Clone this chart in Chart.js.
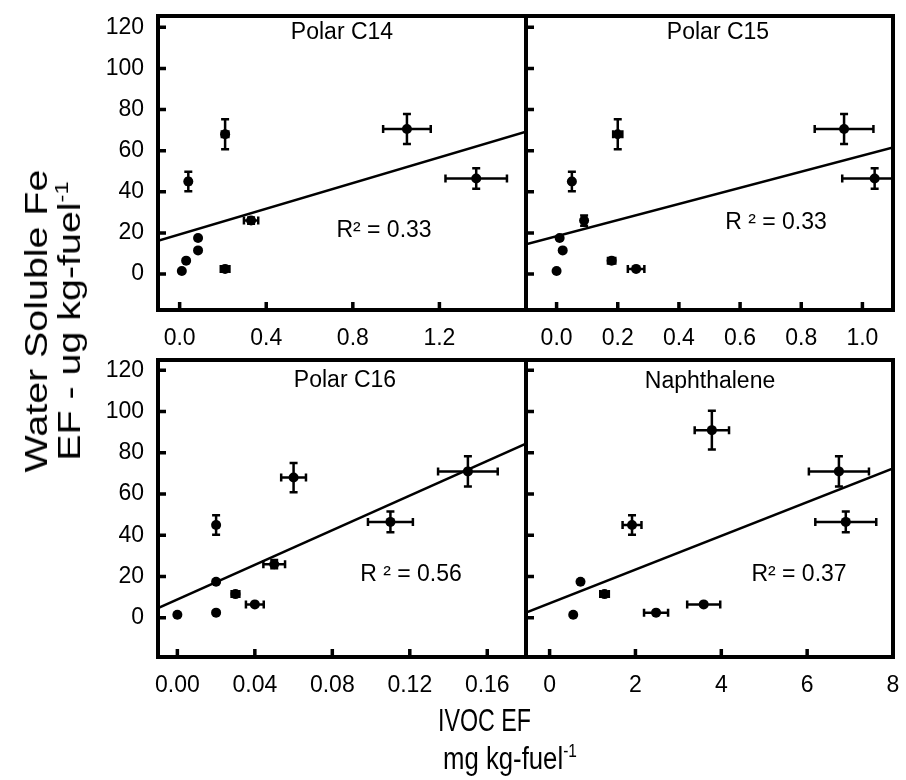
<!DOCTYPE html>
<html lang="en">
<head>
<meta charset="UTF-8">
<title>Water Soluble Fe vs IVOC EF</title>
<script src="https://cdn.jsdelivr.net/npm/chart.js"></script>
<style>
  body { margin: 0; background: #fff; }
  #wrap { position: relative; width: 906px; height: 780px; overflow: hidden;
          font-family: "Liberation Sans", Arial, sans-serif; color: #000; }
  #wrap canvas { position: absolute; left: 0; top: 0; }
  .sup { font-size: 60%; position: relative; top: -0.65em; }
  #ytitle { position: absolute; left: -157px; top: 288px; width: 420px; height: 66px;
            text-align: center; font-size: 31px; line-height: 33px; white-space: nowrap;
            transform: rotate(-90deg) scaleX(1.27); }
  .xtitle { position: absolute; width: 300px; white-space: nowrap;
            font-size: 31px; line-height: 31px; transform-origin: 0 0; }
</style>
</head>
<body>
<div id="wrap">
  <canvas id="c0" width="906" height="780"></canvas>
  <canvas id="c1" width="906" height="780"></canvas>
  <canvas id="c2" width="906" height="780"></canvas>
  <canvas id="c3" width="906" height="780"></canvas>
  <div id="ytitle">Water Soluble Fe<br>EF - ug kg-fuel<span class="sup">-1</span></div>
  <div class="xtitle" style="left:438px; top:705px; transform:scaleX(0.75)">IVOC EF</div>
  <div class="xtitle" style="left:443px; top:743px; transform:scaleX(0.83)">mg kg-fuel<span class="sup">-1</span></div>
</div>

<script>
  // shared y ticks (Fe EF)
  var yTicks = [0, 20, 40, 60, 80, 100, 120];

  // Polar C14
  var c14X = [0.01, 0.03, 0.085, 0.085, 0.04, 0.21, 0.21, 0.33, 1.05, 1.37];
  var c14Y = [1.5, 6.5, 11.5, 17.5, 45, 68, 2.5, 26, 70.5, 46.5];
  var c14XErr = [0, 0, 0, 0, 0.01, 0.015, 0.02, 0.033, 0.11, 0.142];
  var c14YErr = [0, 0, 0, 0, 4.8, 7.3, 0, 1.5, 7.3, 5];
  var c14LineX = [-0.1, 1.6];
  var c14LineY = [16.1, 69.2];
  var c14Ticks = [0, 0.4, 0.8, 1.2];

  // Polar C15
  var c15X = [0.0, 0.02, 0.01, 0.05, 0.09, 0.2, 0.18, 0.26, 0.94, 1.04];
  var c15Y = [1.5, 11.5, 17.5, 45, 26, 68, 6.5, 2.5, 70.5, 46.5];
  var c15XErr = [0, 0, 0, 0.005, 0.005, 0.015, 0.012, 0.027, 0.096, 0.106];
  var c15YErr = [0, 0, 0, 4.8, 2.5, 7.3, 0, 0, 7.3, 5];
  var c15LineX = [-0.1, 1.1];
  var c15LineY = [14.4, 61.6];
  var c15Ticks = [0, 0.2, 0.4, 0.6, 0.8, 1.0];

  // Polar C16
  var c16X = [0.0, 0.02, 0.02, 0.02, 0.03, 0.04, 0.05, 0.06, 0.11, 0.15];
  var c16Y = [1.5, 2.5, 17.5, 45, 11.5, 6.5, 26, 68, 46.5, 71];
  var c16XErr = [0, 0, 0, 0.001, 0.002, 0.0046, 0.0056, 0.0064, 0.0116, 0.0154];
  var c16YErr = [0, 0, 0, 4.7, 0, 0, 2, 7.1, 5, 7.3];
  var c16LineX = [-0.01, 0.18];
  var c16LineY = [4.7, 84.5];
  var c16Ticks = [0, 0.04, 0.08, 0.12, 0.16];

  // Naphthalene
  var napX = [0.55, 0.72, 1.28, 2.48, 1.92, 3.59, 3.78, 6.74, 6.9];
  var napY = [1.5, 17.5, 11.5, 2.5, 45, 6.5, 91, 71, 46.5];
  var napXErr = [0, 0, 0.1, 0.28, 0.22, 0.385, 0.4, 0.7, 0.71];
  var napYErr = [0, 0, 0, 0, 4.7, 0, 9.4, 7.3, 5];
  var napLineX = [-0.55, 8];
  var napLineY = [2.56, 72.4];
  var napTicks = [0, 2, 4, 6, 8];

  var FONT = '"Liberation Sans", Arial, sans-serif';

  var panels = [
    { name: "Polar C14", r2: "R\u00b2 = 0.33", x: c14X, y: c14Y, xErr: c14XErr, yErr: c14YErr,
      lineX: c14LineX, lineY: c14LineY, xTicks: c14Ticks, xMin: -0.1, xMax: 1.6, digits: 1,
      yMin: -17.5, yMax: 125.5, showY: true,
      area: { left: 158, top: 16, right: 526, bottom: 310 }, nameAt: [342, 33], r2At: [384, 231] },
    { name: "Polar C15", r2: "R \u00b2 = 0.33", x: c15X, y: c15Y, xErr: c15XErr, yErr: c15YErr,
      lineX: c15LineX, lineY: c15LineY, xTicks: c15Ticks, xMin: -0.1, xMax: 1.1, digits: 1,
      yMin: -17.5, yMax: 125.5, showY: false,
      area: { left: 526, top: 16, right: 893, bottom: 310 }, nameAt: [718, 33], r2At: [776, 223] },
    { name: "Polar C16", r2: "R \u00b2 = 0.56", x: c16X, y: c16Y, xErr: c16XErr, yErr: c16YErr,
      lineX: c16LineX, lineY: c16LineY, xTicks: c16Ticks, xMin: -0.01, xMax: 0.18, digits: 2,
      yMin: -19, yMax: 125, showY: true,
      area: { left: 158, top: 360, right: 526, bottom: 657 }, nameAt: [345, 381], r2At: [411, 575] },
    { name: "Naphthalene", r2: "R\u00b2 = 0.37", x: napX, y: napY, xErr: napXErr, yErr: napYErr,
      lineX: napLineX, lineY: napLineY, xTicks: napTicks, xMin: -0.55, xMax: 8, digits: 0,
      yMin: -19, yMax: 125, showY: false,
      area: { left: 526, top: 360, right: 893, bottom: 657 }, nameAt: [710, 382], r2At: [799, 575] }
  ];

  var Y_W = 60, X_H = 50;

  function makeDecor(p) {
    return {
      id: "panelDecor",
      afterDatasetsDraw: function (chart) {
        var ctx = chart.ctx, a = chart.chartArea;
        var xs = chart.scales.x, ys = chart.scales.y;
        var cap = 4;
        ctx.save();
        ctx.beginPath();
        ctx.rect(a.left, a.top, a.right - a.left, a.bottom - a.top);
        ctx.clip();
        ctx.strokeStyle = "#000";
        ctx.lineWidth = 2.5;
        p.x.forEach(function (xv, i) {
          var px = xs.getPixelForValue(xv), py = ys.getPixelForValue(p.y[i]);
          ctx.beginPath();
          if (p.xErr[i] > 0) {
            var x0 = xs.getPixelForValue(xv - p.xErr[i]);
            var x1 = xs.getPixelForValue(xv + p.xErr[i]);
            ctx.moveTo(x0, py); ctx.lineTo(x1, py);
            ctx.moveTo(x0, py - cap); ctx.lineTo(x0, py + cap);
            ctx.moveTo(x1, py - cap); ctx.lineTo(x1, py + cap);
          }
          if (p.yErr[i] > 0) {
            var y0 = ys.getPixelForValue(p.y[i] - p.yErr[i]);
            var y1 = ys.getPixelForValue(p.y[i] + p.yErr[i]);
            ctx.moveTo(px, y0); ctx.lineTo(px, y1);
            ctx.moveTo(px - cap, y0); ctx.lineTo(px + cap, y0);
            ctx.moveTo(px - cap, y1); ctx.lineTo(px + cap, y1);
          }
          ctx.stroke();
        });
        ctx.restore();
      },
      afterDraw: function (chart) {
        var ctx = chart.ctx, a = chart.chartArea;
        var xs = chart.scales.x, ys = chart.scales.y;
        ctx.save();
        ctx.strokeStyle = "#000";
        // inward tick marks
        ctx.lineWidth = 3.5;
        ctx.beginPath();
        xs.ticks.forEach(function (t) {
          var px = xs.getPixelForValue(t.value);
          ctx.moveTo(px, a.bottom); ctx.lineTo(px, a.bottom - 8);
        });
        ys.ticks.forEach(function (t) {
          var py = ys.getPixelForValue(t.value);
          ctx.moveTo(a.left, py); ctx.lineTo(a.left + 8, py);
        });
        ctx.stroke();
        // frame
        ctx.lineWidth = 4;
        ctx.strokeRect(a.left, a.top, a.right - a.left, a.bottom - a.top);
        // panel name and R squared
        ctx.fillStyle = "#000";
        ctx.font = "23px " + FONT;
        ctx.textAlign = "center";
        ctx.textBaseline = "middle";
        ctx.fillText(p.name, p.nameAt[0], p.nameAt[1]);
        ctx.fillText(p.r2, p.r2At[0], p.r2At[1]);
        ctx.restore();
      }
    };
  }

  panels.forEach(function (p, k) {
    var pts = p.x.map(function (xv, i) { return { x: xv, y: p.y[i] }; });
    var fit = p.lineX.map(function (xv, i) { return { x: xv, y: p.lineY[i] }; });
    new Chart(document.getElementById("c" + k), {
      type: "scatter",
      data: {
        datasets: [
          { data: fit, showLine: true, pointRadius: 0, borderColor: "#000", borderWidth: 2.5, fill: false },
          { data: pts, pointRadius: 5, pointBackgroundColor: "#000", pointBorderWidth: 0, pointHoverRadius: 5 }
        ]
      },
      options: {
        responsive: false,
        animation: false,
        events: [],
        layout: {
          padding: {
            left: p.area.left - Y_W,
            top: p.area.top,
            right: 906 - p.area.right,
            bottom: 780 - p.area.bottom - X_H
          }
        },
        plugins: { legend: { display: false }, tooltip: { enabled: false } },
        scales: {
          x: {
            type: "linear", min: p.xMin, max: p.xMax,
            grid: { display: false, drawTicks: false }, border: { display: false },
            afterBuildTicks: function (s) { s.ticks = p.xTicks.map(function (v) { return { value: v }; }); },
            afterFit: function (s) { s.height = X_H; s.paddingLeft = 0; s.paddingRight = 0; },
            ticks: {
              padding: 15, maxRotation: 0, autoSkip: false, color: "#000",
              font: { family: FONT, size: 23 },
              callback: function (v) { return Number(v).toFixed(p.digits); }
            }
          },
          y: {
            type: "linear", min: p.yMin, max: p.yMax,
            grid: { display: false, drawTicks: false }, border: { display: false },
            afterBuildTicks: function (s) { s.ticks = yTicks.map(function (v) { return { value: v }; }); },
            afterFit: function (s) { s.width = Y_W; s.paddingTop = 0; s.paddingBottom = 0; },
            ticks: {
              display: p.showY, padding: 14, color: "#000",
              font: { family: FONT, size: 23 },
              callback: function (v) { return String(v); }
            }
          }
        }
      },
      plugins: [makeDecor(p)]
    });
  });
</script>
</body>
</html>
